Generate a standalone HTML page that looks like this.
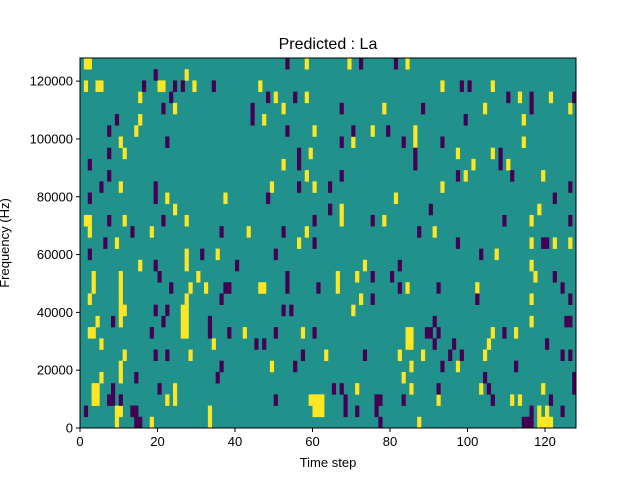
<!DOCTYPE html>
<html><head><meta charset="utf-8"><style>
body{margin:0;background:#fff;}
svg{display:block;font-family:"Liberation Sans","DejaVu Sans",sans-serif;}
</style></head><body>
<svg id="chart" width="640" height="480">
<rect x="0" y="0" width="640" height="480" fill="#fff"/>
<text x="328" y="49" font-size="16" text-anchor="middle">Predicted : La</text>
<g id="cells"></g>
<g id="axes"></g>
<text x="328" y="467" font-size="13" text-anchor="middle">Time step</text>
<text transform="translate(9,243) rotate(-90)" font-size="13" text-anchor="middle">Frequency (Hz)</text>
</svg>
<script>
// data: time steps, frequency rows counted from the top (0..32), values
const nTime = 128;
const nRows = 33;
const fMax = 128000;
const xTicks = [0,20,40,60,80,100,120];
const yTicks = [0,20000,40000,60000,80000,100000,120000];
const yTickLabels = ["0","20000","40000","60000","80000","100000","120000"];
const yellowCells = [
[1,0],[2,0],[58,0],[27,1],[1,2],[4,2],[5,2],[20,2],[21,2],[29,2],[46,2],[15,3],[50,3],[58,3],[24,4],[52,4],[15,5],[47,5],[14,6],[60,6],[10,7],[11,8],[59,8],[52,9],[58,10],[10,11],[49,11],[60,11],[22,12],[37,12],[24,13],[1,14],[2,14],[11,14],[27,14],[2,15],[18,15],[43,15],[58,15],[9,16],[56,16],
[27,17],[35,17],[15,18],[27,18],[3,19],[10,19],[30,19],[3,20],[10,20],[28,20],[32,20],[46,20],[47,20],[2,21],[10,21],[27,21],[10,22],[11,22],[26,22],[27,22],[4,23],[10,23],[26,23],[27,23],[2,24],[3,24],[26,24],[27,24],[42,24],[57,24],[5,25],[34,25],[11,26],[28,26],[63,26],[10,27],[49,27],[5,28],[10,28],[3,29],[4,29],[24,29],[3,30],[4,30],[22,30],[24,30],[59,30],[60,30],[61,30],[62,30],[9,31],[10,31],[33,31],[60,31],[61,31],[62,31],[9,32],[18,32],[33,32],
[69,0],[84,0],[93,2],[106,2],[113,3],[121,3],[78,4],[104,4],[126,4],[114,5],[75,6],[86,6],[70,7],[86,7],[114,7],[97,8],[106,8],[101,9],[110,9],[99,10],[119,10],[93,11],[81,12],[67,13],[118,13],[67,14],[78,14],[116,14],[91,15],[116,16],[122,16],[126,16],
[107,17],[73,18],[116,18],[66,19],[71,19],[117,19],[66,20],[84,20],[102,20],[72,21],[116,21],[70,22],[116,23],[84,24],[85,24],[106,24],[112,24],[84,25],[85,25],[105,25],[82,26],[88,26],[104,26],[85,27],[97,27],[83,28],[71,29],[85,29],[103,29],[119,29],[92,30],[111,30],[113,30],[118,31],[120,31],[87,32],[118,32],[119,32],[120,32],[121,32]
];
const purpleCells = [
[53,0],[19,1],[16,2],[24,2],[26,2],[34,2],[23,3],[48,3],[55,3],[21,4],[44,4],[9,5],[44,5],[7,6],[53,6],[22,7],[7,8],[56,8],[2,9],[56,9],[7,10],[5,11],[19,11],[56,11],[64,11],[2,12],[19,12],[48,12],[64,13],[7,14],[21,14],[60,14],[13,15],[36,15],[52,15],[6,16],[60,16],
[2,17],[31,17],[50,17],[19,18],[40,18],[20,19],[53,19],[23,20],[37,20],[38,20],[53,20],[61,20],[36,21],[19,22],[22,22],[52,22],[54,22],[8,23],[21,23],[33,23],[18,24],[33,24],[38,24],[50,24],[60,24],[45,25],[47,25],[19,26],[22,26],[57,26],[36,27],[55,27],[14,28],[35,28],[8,29],[20,29],[7,30],[8,30],[10,30],[50,30],[1,31],[13,31],[14,31],[14,32],[15,32],
[72,0],[81,0],[98,2],[100,2],[110,3],[116,3],[127,3],[67,4],[88,4],[116,4],[99,5],[70,6],[79,6],[67,7],[83,7],[93,7],[86,8],[108,8],[86,9],[108,9],[67,10],[97,10],[111,10],[126,11],[122,12],[64,13],[90,13],[75,14],[109,14],[126,14],[87,15],[97,16],[119,16],[120,16],
[103,17],[82,18],[75,19],[80,19],[122,19],[82,20],[92,20],[124,20],[75,21],[102,21],[126,21],[91,23],[125,23],[126,23],[89,24],[90,24],[92,24],[109,24],[91,25],[96,25],[120,25],[73,26],[95,26],[98,26],[124,26],[126,26],[93,27],[112,27],[104,28],[127,28],[65,29],[67,29],[92,29],[105,29],[127,29],[68,30],[76,30],[77,30],[83,30],[106,30],[121,30],[68,31],[71,31],[76,31],[116,31],[124,31],[77,32],[114,32],[115,32],[116,32]
];

const NS="http://www.w3.org/2000/svg";
const L=80,R=576,T=58,B=428;
const xScale=t=>L+t*(R-L)/nTime;
const rowScale=r=>T+r*(B-T)/nRows;
const fScale=f=>B-f*(B-T)/fMax;
const cg=document.getElementById('cells');
function mk(tag,attrs,parent){const e=document.createElementNS(NS,tag);for(const k in attrs)e.setAttribute(k,attrs[k]);parent.appendChild(e);return e;}
const bg=mk('rect',{x:L,y:T,width:R-L,height:B-T,fill:'#21918c'},cg);


function drawCells(list,color,name){
  list.forEach(([t,r])=>{
    const x0=xScale(t),x1=xScale(t+1),y0=rowScale(r),y1=rowScale(r+1);
    const e=mk('rect',{x:x0,y:y0,width:x1-x0+0.3,height:y1-y0+0.3,fill:color},cg);
    
    
  });
}
drawCells(yellowCells,'#fde725','cell-high');
drawCells(purpleCells,'#440154','cell-low');
const ag=document.getElementById('axes');
const frame=mk('rect',{x:L,y:T,width:R-L,height:B-T,fill:'none',stroke:'#000','stroke-width':1},ag);


xTicks.forEach(v=>{
  const x=xScale(v);
  const tk=mk('line',{x1:x,x2:x,y1:B,y2:B+4,stroke:'#000'},ag);
  
  
  const tx=mk('text',{x:x,y:B+18,'font-size':13,'text-anchor':'middle'},ag);
  tx.textContent=String(v);
  
  
});
yTicks.forEach((v,i)=>{
  const y=fScale(v);
  const tk=mk('line',{x1:L-4,x2:L,y1:y,y2:y,stroke:'#000'},ag);
  
  
  const tx=mk('text',{x:L-7,y:y+4.5,'font-size':13,'text-anchor':'end'},ag);
  tx.textContent=yTickLabels[i];
  
  
});
</script>
</body></html>
